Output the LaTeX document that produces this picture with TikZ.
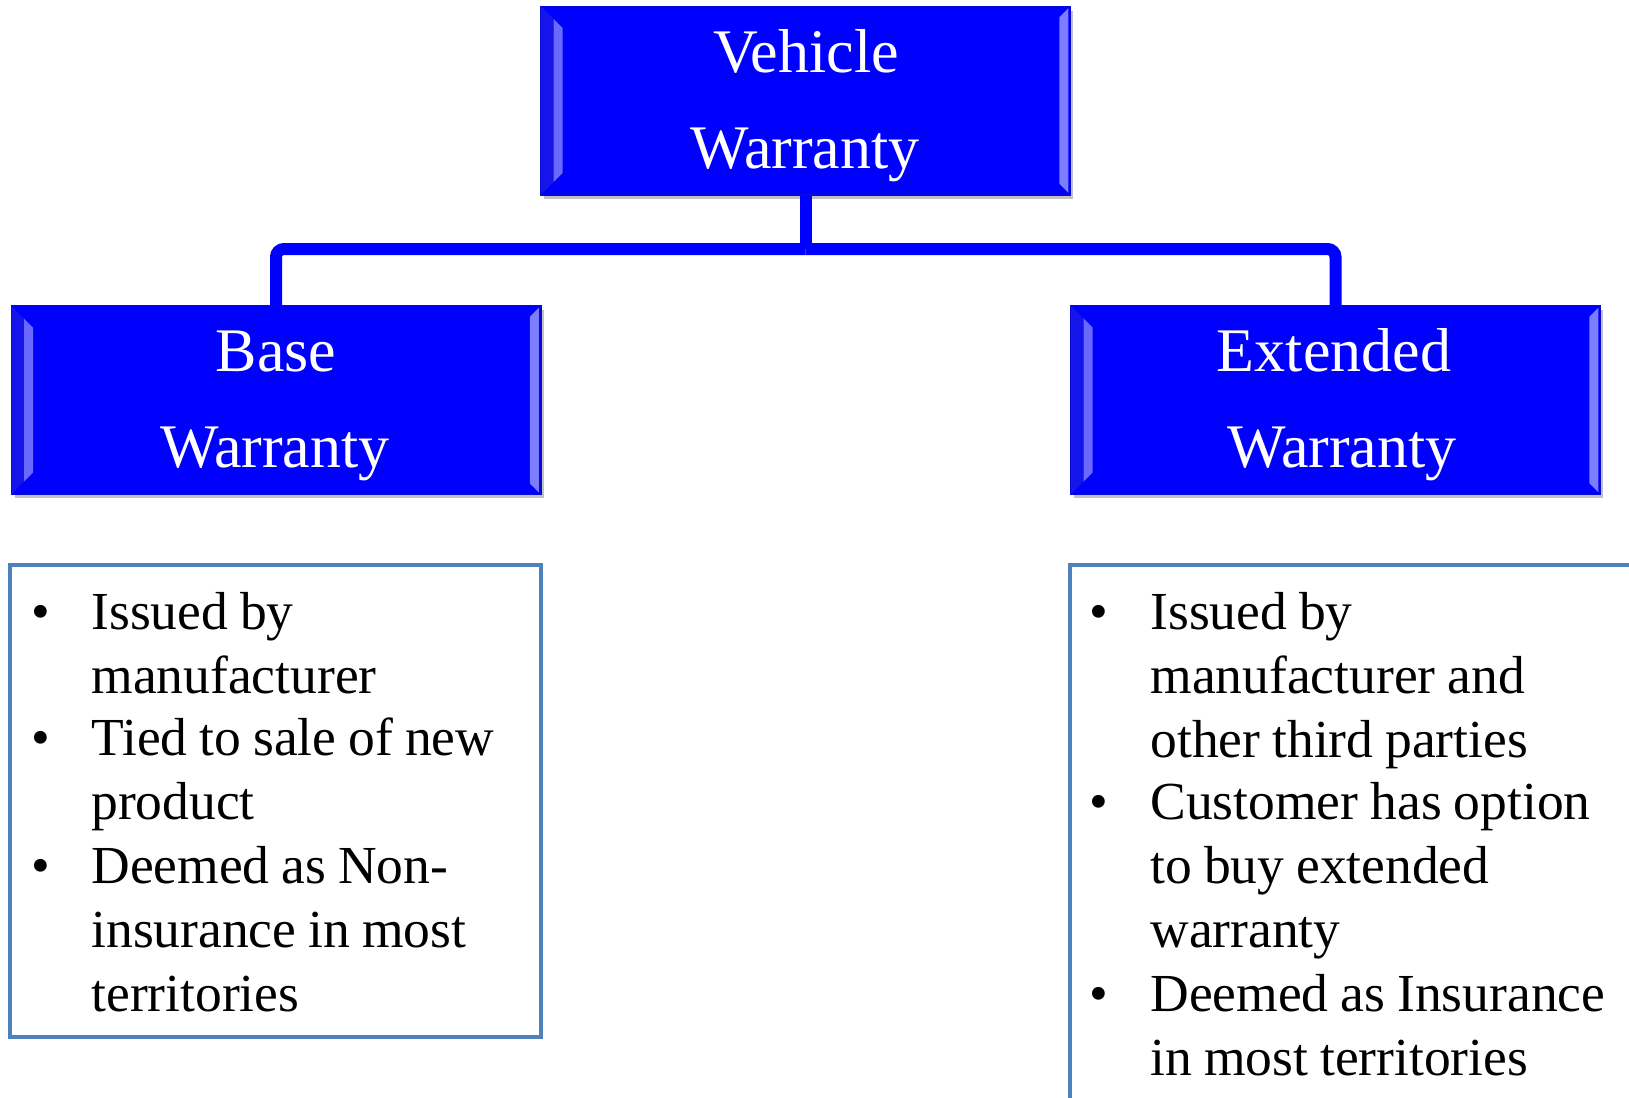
\documentclass[tikz,border=0pt]{standalone}
\usepackage{fontspec}
\setmainfont{Liberation Serif}
\usetikzlibrary{shadows}
\definecolor{boxblue}{RGB}{0,0,255}
\definecolor{boxedge}{RGB}{10,10,215}
\definecolor{bevouter}{RGB}{20,20,235}
\definecolor{bevlight}{RGB}{105,105,255}
\definecolor{bevlightr}{RGB}{125,125,255}
\definecolor{listborder}{RGB}{79,129,189}
\definecolor{connblue}{RGB}{0,0,255}
\newcommand\bevelit[1]{%
  \fill[bevouter] (#1.north west) -- ([shift={(13,13)}]#1.north west) -- ([shift={(13,-13)}]#1.south west) -- (#1.south west) -- cycle;
  \fill[bevlight] ([shift={(13,13)}]#1.north west) -- ([shift={(22,22)}]#1.north west) -- ([shift={(22,-22)}]#1.south west) -- ([shift={(13,-13)}]#1.south west) -- cycle;
  \fill[bevlightr] ([shift={(-2,2)}]#1.north east) -- ([shift={(-11,11)}]#1.north east) -- ([shift={(-11,-11)}]#1.south east) -- ([shift={(-2,-2)}]#1.south east) -- cycle;
  \draw[boxedge, line width=0.6pt] (#1.north west) rectangle (#1.south east);
}
\newcommand\narrowspaces{\spaceskip=0.225em\relax}
\begin{document}
\begin{tikzpicture}[x=0.5pt,y=-0.5pt,
  bluebox/.style={rectangle, fill=boxblue, minimum width=264.5pt, minimum height=94pt, inner sep=0pt,
    drop shadow={shadow xshift=1.5pt, shadow yshift=-2pt, opacity=0.4, fill=black!60}},
  title/.style={text=white, font=\fontsize{31}{37}\selectfont, inner sep=0pt, anchor=base},
  listbox/.style={draw=listborder, line width=2pt, rectangle, inner sep=0pt},
  bul/.style={font=\fontsize{26.75}{32}\selectfont, inner sep=0pt, anchor=base},
  itemtext/.style={font=\fontsize{26.75}{32}\selectfont, inner sep=0pt, anchor=base west, align=left, text width=240pt},
  conn/.style={draw=connblue, line width=6pt, rounded corners=4pt}]
\useasboundingbox (0,0) rectangle (1629,1098);
\clip (0,0) rectangle (1629,1098);
\fill[white] (0,0) rectangle (1629,1098);

% boxes
\node[bluebox] (vw) at (805.5,100.5) {};
\node[bluebox] (bw) at (276,400) {};
\node[bluebox] (ew) at (1335.5,400) {};

% connectors
\coordinate (junc) at (805.5,249);
\draw[conn] (vw.south) -- (junc);
\draw[conn] (junc) -| (bw.north);
\draw[conn] (junc) -| (ew.north);

\bevelit{vw}
\bevelit{bw}
\bevelit{ew}

% titles
\node[title] (vw1) at (806,72) {Vehicle};
\node[title] (vw2) at (805,168) {Warranty};
\node[title] (bw1) at (276,371) {Base};
\node[title] (bw2) at (275,467) {Warranty};
\node[title] (ew1) at (1334,371) {Extended};
\node[title] (ew2) at (1342,467) {Warranty};

% list boxes
\node[listbox, minimum width=265.5pt, minimum height=236pt] (bl) at (275.5,801) {};
\node[listbox, minimum width=295pt, minimum height=282.5pt] (el) at (1365,847.5) {};

% left list
\node[bul] (lb1) at (41,629) {\textbullet};
\node[itemtext] (lt1) at (91,629) {\narrowspaces Issued by\\manufacturer};
\node[bul] (lb2) at (41,755) {\textbullet};
\node[itemtext] (lt2) at (91,755) {\narrowspaces Tied to sale of new\\product};
\node[bul] (lb3) at (41,883) {\textbullet};
\node[itemtext] (lt3) at (91,883) {\narrowspaces Deemed as Non-\\insurance in most\\territories};

% right list
\node[bul] (rb1) at (1099,629) {\textbullet};
\node[itemtext] (rt1) at (1150,629) {\narrowspaces Issued by\\manufacturer and\\other third parties};
\node[bul] (rb2) at (1099,819) {\textbullet};
\node[itemtext] (rt2) at (1150,819) {\narrowspaces Customer has option\\to buy extended\\warranty};
\node[bul] (rb3) at (1099,1011) {\textbullet};
\node[itemtext] (rt3) at (1150,1011) {\narrowspaces Deemed as Insurance\\in most territories};
\end{tikzpicture}
\end{document}
